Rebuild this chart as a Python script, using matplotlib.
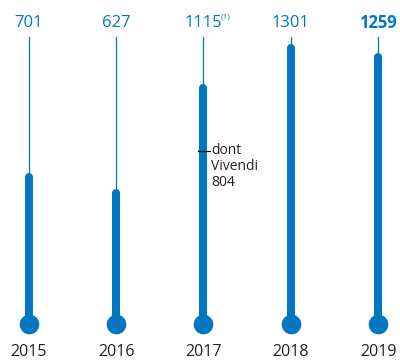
import matplotlib.pyplot as plt

years = ['2015', '2016', '2017', '2018', '2019']
values = [701, 627, 1115, 1301, 1259]
value_labels = ['701', '627', '1115', '1301', '1259']
vivendi = 804

blue = '#0077c0'
plt.rcParams['font.family'] = ['Open Sans', 'DejaVu Sans']

fig = plt.figure(figsize=(4, 3.6), dpi=100)
ax = fig.add_axes([0, 0, 1, 1])
ax.set_xlim(-0.332, 4.252)
ax.set_ylim(-167.3, 1505.6)
ax.axis('off')

x = list(range(len(years)))
line_top = 1333
for i, v in enumerate(values):
    ax.plot([i, i], [0, line_top], color=blue, lw=0.9, zorder=1)
    ax.plot([i, i], [0, v - 18], color=blue, lw=5.8, solid_capstyle='round', zorder=2)
ax.scatter(x, [0] * len(x), s=200, color=blue, zorder=3, linewidths=0)

for i, lab in enumerate(value_labels):
    bold = i == len(values) - 1
    ax.text(i, 1400, lab, ha='center', va='center', fontsize=12, color=blue,
            fontweight='bold' if bold else 'normal')
ax.text(2 + 0.2, 1425, '(1)', ha='left', va='center', fontsize=6, color=blue)

for i, y in enumerate(years):
    ax.text(i, -128, y, ha='center', va='center', fontsize=11.5, color='#222222')

# annotation on 2017
ax.plot([1.94, 2.07], [vivendi, vivendi], color='black', lw=0.9, zorder=4)
ax.text(2.085, vivendi + 38, 'dont\nVivendi\n804', ha='left', va='top', fontsize=10,
        color='#222222', linespacing=1.1)

fig.savefig('out.png', dpi=100)
